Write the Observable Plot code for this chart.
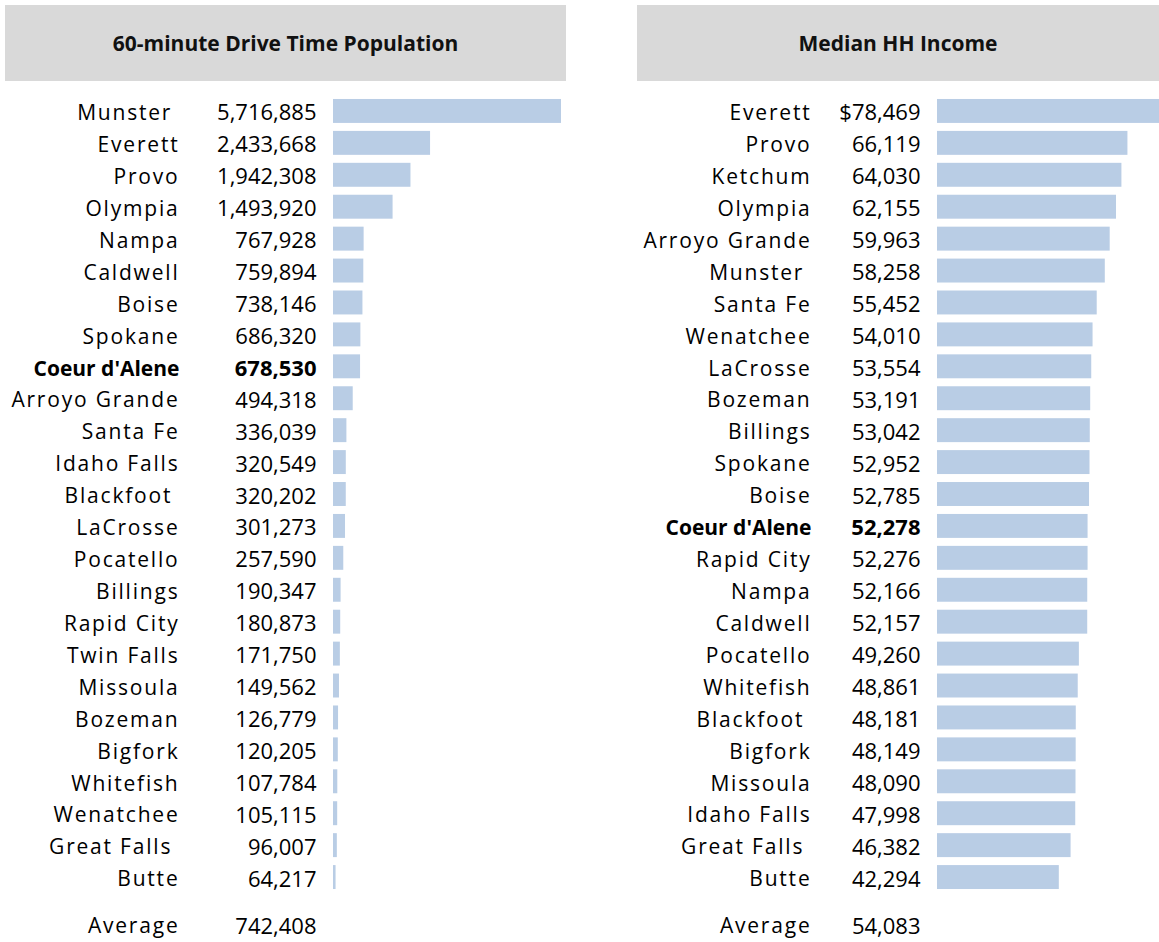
<!DOCTYPE html>
<html>
<head>
<meta charset="utf-8">
<script src="https://cdn.jsdelivr.net/npm/d3@7"></script>
<script src="https://cdn.jsdelivr.net/npm/@observablehq/plot@0.6"></script>
<style>
  html, body { margin: 0; padding: 0; background: white; overflow: hidden; }
  #page { position: relative; width: 1159px; height: 942px; overflow: hidden; font-family: "Open Sans", sans-serif; }
  .panel { position: absolute; top: 0; height: 942px; }
  .panel text { white-space: pre; }
  .header { position: absolute; top: 5px; height: 76px; background: #d9d9d9; display: flex; align-items: center; justify-content: center; font-weight: bold; font-size: 21px; color: #111; }
</style>
</head>
<body>
<div id="page"></div>
<script>
// ---- data ----
const highlight = "Coeur d'Alene";

const popTitle = "60-minute Drive Time Population";
const popCities = ["Munster ","Everett","Provo","Olympia","Nampa","Caldwell","Boise","Spokane","Coeur d'Alene","Arroyo Grande","Santa Fe","Idaho Falls","Blackfoot ","LaCrosse","Pocatello","Billings","Rapid City","Twin Falls","Missoula","Bozeman","Bigfork","Whitefish","Wenatchee","Great Falls ","Butte"];
const popValues = [5716885,2433668,1942308,1493920,767928,759894,738146,686320,678530,494318,336039,320549,320202,301273,257590,190347,180873,171750,149562,126779,120205,107784,105115,96007,64217];
const popAverage = 742408;

const incTitle = "Median HH Income";
const incCities = ["Everett","Provo","Ketchum","Olympia","Arroyo Grande","Munster ","Santa Fe","Wenatchee","LaCrosse","Bozeman","Billings","Spokane","Boise","Coeur d'Alene","Rapid City","Nampa","Caldwell","Pocatello","Whitefish","Blackfoot ","Bigfork","Missoula","Idaho Falls","Great Falls ","Butte"];
const incValues = [78469,66119,64030,62155,59963,58258,55452,54010,53554,53191,53042,52952,52785,52278,52276,52166,52157,49260,48861,48181,48149,48090,47998,46382,42294];
const incAverage = 54083;

const averageLabel = "Average";
const barColor = "#b9cde5";

const comma = d3.format(",");
const page = document.getElementById("page");

function panel({title, cities, values, avg, fmt, left, width, marginLeft, marginRight, nameDx, valueDx, headWidth}) {
  const data = cities.map((c, i) => ({city: c, value: values[i], label: fmt(values[i], i)}));
  const normal = data.filter(d => d.city !== highlight);
  const bold = data.filter(d => d.city === highlight);
  const fsName = 21, fsVal = 22;
  const svg = Plot.plot({
    width, height: 942,
    marginLeft, marginRight, marginTop: 91, marginBottom: 45,
    x: {domain: [0, d3.max(values)], axis: null},
    y: {domain: cities, axis: null, padding: 0.25, round: false},
    style: {background: "none", fontFamily: "'Open Sans', sans-serif", color: "black", overflow: "visible"},
    marks: [
      Plot.barX(data, {x: "value", y: "city", fill: barColor}),
      Plot.text(normal, {x: 0, y: "city", text: "city", textAnchor: "end", dx: nameDx, dy: 2, fontSize: fsName, fill: "black"}),
      Plot.text(normal, {x: 0, y: "city", text: "label", textAnchor: "end", dx: valueDx, dy: 2, fontSize: fsVal, fill: "black"}),
      Plot.text(bold, {x: 0, y: "city", text: "city", textAnchor: "end", dx: nameDx, dy: 2, fontSize: fsName, fontWeight: "bold", fill: "black"}),
      Plot.text(bold, {x: 0, y: "city", text: "label", textAnchor: "end", dx: valueDx, dy: 2, fontSize: fsVal, fontWeight: "bold", fill: "black"}),
      Plot.text([avg], {frameAnchor: "bottom-left", lineAnchor: "middle", text: () => averageLabel, textAnchor: "end", dx: nameDx, dy: 29, fontSize: fsName, fill: "black"}),
      Plot.text([avg], {frameAnchor: "bottom-left", lineAnchor: "middle", text: d => comma(d), textAnchor: "end", dx: valueDx, dy: 29, fontSize: fsVal, fill: "black"})
    ]
  });
  const nameSet = new Set([...cities.filter(c => c !== highlight), averageLabel]);
  d3.select(svg).selectAll("text").each(function() {
    if (nameSet.has(this.textContent)) this.style.letterSpacing = "1.8px";
  });
  const wrap = document.createElement("div");
  wrap.className = "panel";
  wrap.style.left = left + "px";
  wrap.style.width = width + "px";
  wrap.appendChild(svg);
  page.appendChild(wrap);
  const head = document.createElement("div");
  head.className = "header";
  head.style.left = (left + 5) + "px";
  head.style.width = headWidth + "px";
  head.textContent = title;
  page.appendChild(head);
}

panel({title: popTitle, cities: popCities, values: popValues, avg: popAverage,
  fmt: v => comma(v), left: 0, width: 566, marginLeft: 333, marginRight: 5, nameDx: -154, valueDx: -17, headWidth: 561});
panel({title: incTitle, cities: incCities, values: incValues, avg: incAverage,
  fmt: (v, i) => (i === 0 ? "$" : "") + comma(v), left: 632, width: 531, marginLeft: 305, marginRight: 0, nameDx: -126, valueDx: -17, headWidth: 522});
</script>
</body>
</html>
